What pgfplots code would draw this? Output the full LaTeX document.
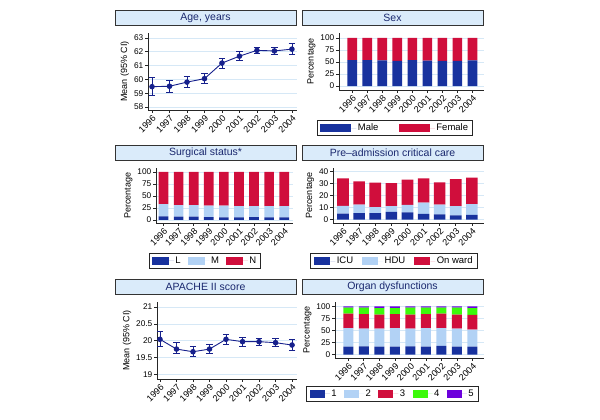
\documentclass[border=0pt]{standalone}
\usepackage{pgfplots}
\pgfplotsset{compat=1.18}
\usepackage{fontspec}
\setmainfont{Liberation Sans}
\definecolor{sblue}{RGB}{24,50,158}
\definecolor{slblue}{RGB}{178,210,245}
\definecolor{sred}{RGB}{208,14,60}
\definecolor{sgreen}{RGB}{60,250,10}
\definecolor{spurple}{RGB}{108,0,220}
\definecolor{lnavy}{RGB}{22,32,140}
\definecolor{gridc}{RGB}{214,232,246}
\definecolor{tfill}{RGB}{218,235,250}
\definecolor{ttext}{RGB}{26,40,110}
\pgfplotsset{
  base/.style={
    scale only axis,
    axis x line*=bottom, axis y line*=left,
    axis line style={-, line width=0.8pt, black!85},
    tick align=outside, major tick length=3pt,
    tick style={line width=0.7pt, black!85},
    ymajorgrids, grid style={gridc, line width=0.7pt},
    xtick={0,...,8}, xticklabels={1996,1997,1998,1999,2000,2001,2002,2003,2004},
    x tick label style={rotate=45, anchor=north east, inner sep=1pt, font=\fontsize{9}{10}\selectfont},
    y tick label style={font=\fontsize{8.3}{9}\selectfont, inner sep=1.5pt},
    /pgf/number format/assume math mode=true,
    ylabel style={font=\fontsize{9}{10}\selectfont},
    enlargelimits=false,
  },
  barp/.style={base, ybar stacked, bar width=0.64,
    legend style={draw=black!85, line width=0.8pt, font=\fontsize{9.5}{11}\selectfont,
      legend columns=-1, anchor=north, inner xsep=3pt, inner ysep=2pt,
      nodes={inner sep=1.5pt}},
    legend cell align=left,
  },
  leg/.style={legend image code/.code={\fill[##1] (0pt,-3.8pt) rectangle (#1,3.8pt); \path (#1,0pt) -- ++(5pt,0pt);}},
  linep/.style={base, ylabel={Mean (95\% CI)}},
  lplot/.style={lnavy, line width=0.9pt, mark=*, mark size=2.3pt, mark options={fill=lnavy, draw=lnavy},
    error bars/.cd, y dir=both, y explicit,
    error bar style={line width=0.8pt, lnavy},
    error mark=-,
    error mark options={rotate=90, line width=0.8pt, mark size=3.2pt, lnavy}},
}
\begin{document}
\begin{tikzpicture}
\path[use as bounding box] (0pt,0pt) rectangle (600pt,420pt);
% titles
\tikzset{ttl/.style={draw=black!80, line width=0.8pt, fill=tfill, minimum width=181pt, minimum height=15pt, inner sep=0pt, text=ttext, font=\fontsize{10.5}{12}\selectfont}}
\node[ttl] at (205.5pt,402.5pt) {Age, years};
\node[ttl] at (392.5pt,402.5pt) {Sex};
\node[ttl] at (205.5pt,267.5pt) {Surgical status*};
\node[ttl] at (392.5pt,267.5pt) {Pre\textendash admission critical care};
\node[ttl] at (205.5pt,133pt) {APACHE II score};
\node[ttl] at (392.5pt,133pt) {Organ dysfunctions};

% Panel 1: Age
\begin{axis}[linep, at={(148pt,310pt)}, anchor=south west, width=149pt, height=77pt,
  xmin=-0.23, xmax=8.29, ymin=57.78, ymax=63.36, ytick={58,59,60,61,62,63}]
\addplot+[lplot] coordinates {
(0,59.47) += (0,0.66) -= (0,0.64)
(1,59.50) += (0,0.44) -= (0,0.42)
(2,59.80) += (0,0.38) -= (0,0.40)
(3,60.05) += (0,0.37) -= (0,0.37)
(4,61.18) += (0,0.32) -= (0,0.36)
(5,61.68) += (0,0.31) -= (0,0.30)
(6,62.10) += (0,0.25) -= (0,0.24)
(7,62.06) += (0,0.28) -= (0,0.24)
(8,62.19) += (0,0.40) -= (0,0.39)
};
\end{axis}

% Panel 2: Sex
\begin{axis}[barp, at={(339pt,330pt)}, anchor=south west, width=145pt, height=57pt,
  xmin=-0.88, xmax=8.77, ymin=-8.3, ymax=110.4, ytick={0,25,50,75,100}, ylabel={Percentage},
  legend style={at={(0.386,-0.526)}, /tikz/every even column/.append style={column sep=19pt}}]
\addplot[fill=sblue, draw=none, leg=31pt] coordinates {(0,54) (1,54) (2,53.5) (3,52.5) (4,54) (5,53) (6,52.5) (7,52.5) (8,53.5)};
\addplot[fill=sred, draw=none, leg=31pt] coordinates {(0,46) (1,46) (2,46.5) (3,47.5) (4,46) (5,47) (6,47.5) (7,47.5) (8,46.5)};
\legend{Male,Female}
\end{axis}

% Panel 3: Surgical status
\begin{axis}[barp, at={(156pt,197pt)}, anchor=south west, width=137pt, height=55pt,
  xmin=-0.5, xmax=8.58, ymin=-6.25, ymax=108.3, ytick={0,25,50,75,100}, ylabel={Percentage},
  legend style={at={(0.358,-0.545)}, /tikz/every even column/.append style={column sep=6pt}}]
\addplot[fill=sblue, draw=none, leg=16.5pt] coordinates {(0,7.5) (1,7) (2,7) (3,6) (4,5.5) (5,5.5) (6,6) (7,5.5) (8,5.5)};
\addplot[fill=slblue, draw=none, leg=16.5pt] coordinates {(0,25.5) (1,24) (2,24) (3,24) (4,24.5) (5,23.5) (6,23) (7,23.5) (8,23.5)};
\addplot[fill=sred, draw=none, leg=16.5pt] coordinates {(0,67) (1,69) (2,69) (3,70) (4,70) (5,71) (6,71) (7,71) (8,71)};
\legend{L,M,N}
\end{axis}

% Panel 4: Pre-admission critical care
\begin{axis}[barp, bar width=0.72, at={(333pt,197pt)}, anchor=south west, width=151pt, height=55pt,
  xmin=-0.62, xmax=8.75, ymin=-2.7, ymax=42.8, ytick={0,10,20,30,40}, ylabel={Percentage},
  legend style={at={(0.404,-0.545)}, /tikz/every even column/.append style={column sep=7pt}}]
\addplot[fill=sblue, draw=none, leg=16.5pt] coordinates {(0,5.0) (1,5.5) (2,5.5) (3,6.5) (4,6.0) (5,4.8) (6,4.5) (7,3.7) (8,4.0)};
\addplot[fill=slblue, draw=none, leg=16.5pt] coordinates {(0,6.5) (1,7.0) (2,5.0) (3,4.7) (4,6.3) (5,9.4) (6,8.0) (7,7.6) (8,9.0)};
\addplot[fill=sred, draw=none, leg=16.5pt] coordinates {(0,22.8) (1,19.2) (2,20.3) (3,19.0) (4,20.9) (5,20.1) (6,18.5) (7,22.3) (8,21.8)};
\legend{ICU,HDU,On ward}
\end{axis}

% Panel 5: APACHE II
\begin{axis}[linep, at={(157pt,41pt)}, anchor=south west, width=140pt, height=77pt,
  xmin=-0.18, xmax=8.3, ymin=18.86, ymax=21.15, ytick={19,19.5,20,20.5,21}]
\addplot+[lplot] coordinates {
(0,20.04) += (0,0.24) -= (0,0.22)
(1,19.75) += (0,0.19) -= (0,0.14)
(2,19.67) += (0,0.15) -= (0,0.15)
(3,19.75) += (0,0.14) -= (0,0.12)
(4,20.04) += (0,0.15) -= (0,0.15)
(5,19.97) += (0,0.13) -= (0,0.13)
(6,19.97) += (0,0.11) -= (0,0.11)
(7,19.94) += (0,0.13) -= (0,0.12)
(8,19.87) += (0,0.17) -= (0,0.17)
};
\end{axis}

% Panel 6: Organ dysfunctions
\begin{axis}[barp, at={(335pt,62pt)}, anchor=south west, width=149pt, height=56pt,
  xmin=-0.86, xmax=8.75, ymin=-6.7, ymax=108.8, ytick={0,25,50,75,100}, ylabel={Percentage},
  legend style={at={(0.386,-0.5)}, /tikz/every even column/.append style={column sep=6pt}}]
\addplot[fill=sblue, draw=none, leg=15pt] coordinates {(0,17) (1,17.5) (2,16.5) (3,17) (4,17.5) (5,17) (6,18.5) (7,17) (8,16.5)};
\addplot[fill=slblue, draw=none, leg=15pt] coordinates {(0,38) (1,36.5) (2,37.5) (3,38) (4,36.5) (5,38) (6,36.5) (7,37) (8,35.5)};
\addplot[fill=sred, draw=none, leg=15pt] coordinates {(0,30) (1,30) (2,29) (3,29) (4,29) (5,29) (6,30) (7,29) (8,30)};
\addplot[fill=sgreen, draw=none, leg=15pt] coordinates {(0,12) (1,13) (2,13) (3,12) (4,14) (5,13) (6,12) (7,14) (8,14)};
\addplot[fill=spurple, draw=none, leg=15pt] coordinates {(0,3) (1,3) (2,4) (3,4) (4,3) (5,3) (6,3) (7,3) (8,4)};
\legend{1,2,3,4,5}
\end{axis}
\end{tikzpicture}
\end{document}
